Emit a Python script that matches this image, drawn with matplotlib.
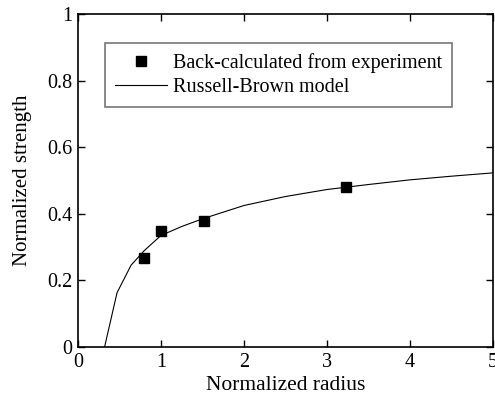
import matplotlib
matplotlib.use("Agg")
import matplotlib.pyplot as plt
import numpy as np

plt.rcParams['font.family'] = ['Liberation Serif', 'DejaVu Serif']
plt.rcParams['font.size'] = 14.5

# back-calculated points
exp_r = [0.8, 1.0, 1.52, 3.23]
exp_s = [0.268, 0.348, 0.379, 0.48]

# Russell-Brown model curve
model_r = [0.32, 0.47, 0.64, 0.8, 1.0, 1.25, 1.5, 2.0, 2.5, 3.0, 3.5, 4.0, 4.5, 5.0]
model_s = [0.0, 0.163, 0.246, 0.29, 0.335, 0.362, 0.385, 0.425, 0.452, 0.473, 0.488, 0.502, 0.513, 0.523]

fig = plt.figure(figsize=(4.95, 3.96), dpi=100)
ax = fig.add_axes([0.1576, 0.1237, 0.8384, 0.8409])

ax.plot(exp_r, exp_s, 's', color='black', markersize=7, label='Back-calculated from experiment')
ax.plot(model_r, model_s, '-', color='black', linewidth=0.8, label='Russell-Brown model')

ax.set_xlim(0, 5)
ax.set_ylim(0, 1)
ax.set_xticks([0, 1, 2, 3, 4, 5])
ax.set_yticks([0, 0.2, 0.4, 0.6, 0.8, 1])
ax.set_yticklabels(['0', '0.2', '0.4', '0.6', '0.8', '1'])
ax.tick_params(direction='in', top=True, right=True, length=5, width=1, pad=4)
for s in ax.spines.values():
    s.set_linewidth(1.2)

ax.set_xlabel('Normalized radius', labelpad=3, fontsize=15.5)
ax.set_ylabel('Normalized strength', labelpad=11, fontsize=15)

leg = ax.legend(loc='upper left', bbox_to_anchor=(0.065, 0.72, 0.835, 0.193), mode='expand',
                borderaxespad=0, frameon=True, fancybox=False, handlelength=2.6,
                labelspacing=0.25, borderpad=0.5, handletextpad=0.3)
leg.get_frame().set_edgecolor('#555555')
leg.get_frame().set_linewidth(1.2)

fig.savefig('out.png', dpi=100)
